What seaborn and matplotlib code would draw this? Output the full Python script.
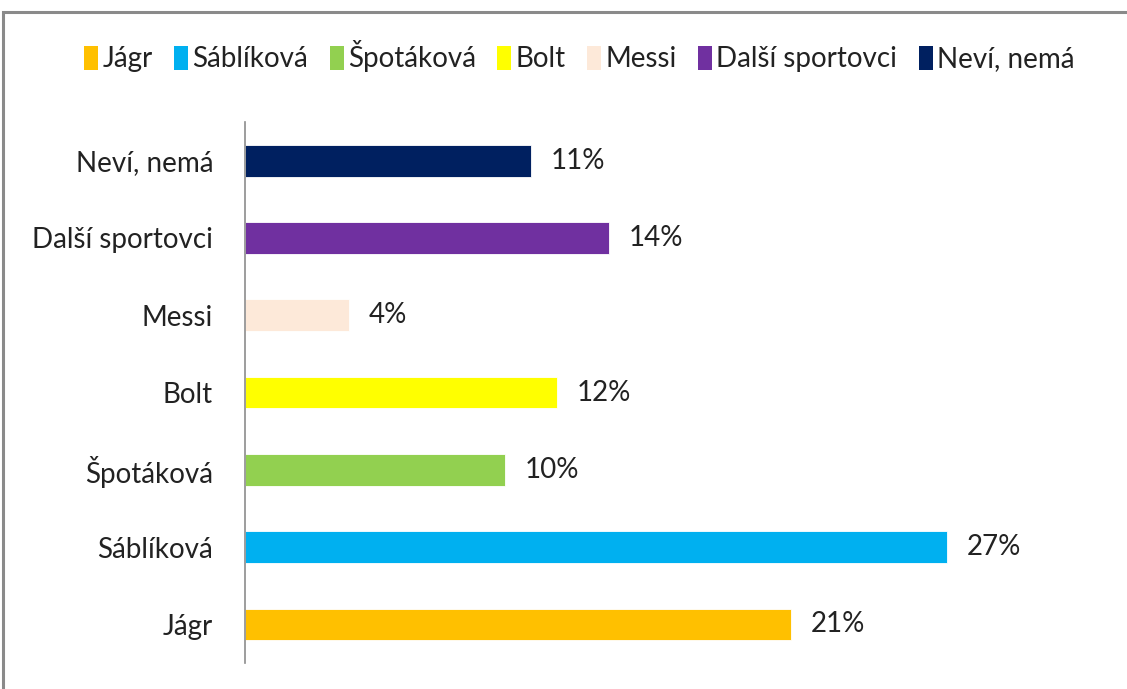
import matplotlib
matplotlib.use("Agg")
import matplotlib.pyplot as plt
from matplotlib.patches import Patch, Rectangle
import pandas as pd
import seaborn as sns

# Survey answers, listed top to bottom as drawn
categories = ["Neví, nemá", "Další sportovci", "Messi", "Bolt",
              "Špotáková", "Sáblíková", "Jágr"]
shares = [11, 14, 4, 12, 10, 27, 21]
colors = ["#002060", "#7030A0", "#FDE9D9", "#FFFF00",
          "#92D050", "#00B0F0", "#FFC000"]
legend_order = ["Jágr", "Sáblíková", "Špotáková", "Bolt", "Messi",
                "Další sportovci", "Neví, nemá"]

df = pd.DataFrame({"category": categories, "share": shares})
palette = dict(zip(categories, colors))

sns.set_theme(style="white")
plt.rcParams["font.family"] = ["Lato", "DejaVu Sans"]
text_color = "#222222"
fs = 20

fig = plt.figure(figsize=(11.27, 6.89), dpi=100)
ax = fig.add_axes([0.2174, 0.0377, 0.692, 0.7852])

sns.barplot(data=df, y="category", x="share", hue="category",
            order=categories, hue_order=categories, palette=palette,
            saturation=1, dodge=False, width=0.41, legend=False, ax=ax,
            edgecolor="white", linewidth=0.6)

ax.set_xlim(0, 30)
ax.set_ylim(6.5, -0.5)
ax.set_xlabel("")
ax.set_ylabel("")
ax.set_xticks([])
for side in ["top", "right", "bottom"]:
    ax.spines[side].set_visible(False)
ax.spines["left"].set_color("#8c8c8c")
ax.spines["left"].set_linewidth(1.2)
ax.tick_params(axis="y", length=0, pad=23, labelsize=fs, labelcolor=text_color)

for container in ax.containers:
    ax.bar_label(container, labels=[f"{v:.0f}%" for v in container.datavalues],
                 padding=14, fontsize=fs, color=text_color)

handles = [Patch(facecolor=palette[c], edgecolor="none") for c in legend_order]
fig.legend(handles, legend_order, loc="center", ncol=7,
           bbox_to_anchor=(0.514, 0.918), frameon=False, fontsize=fs,
           handlelength=0.5, handleheight=1.0, handletextpad=0.15,
           columnspacing=0.78, labelcolor=text_color)

# Chart frame running past the right and bottom edges
fig.patches.append(Rectangle((3 / 1127, -0.05), 1.2, 1 - 12 / 689 + 0.05,
                             transform=fig.transFigure, fill=False,
                             edgecolor="#8a8a8a", linewidth=2.2))

fig.savefig("out.png", dpi=100, facecolor="white")
